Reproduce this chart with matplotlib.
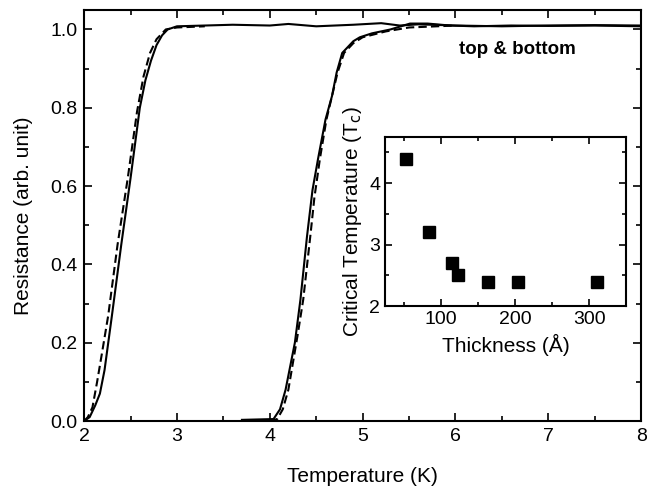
import matplotlib
matplotlib.use('Agg')
import matplotlib.pyplot as plt
from matplotlib.ticker import MultipleLocator

plt.rcParams['font.family'] = ['Liberation Sans', 'DejaVu Sans']

# Resistance curves
t_solid_a = [2.00, 2.06, 2.12, 2.17, 2.22, 2.30, 2.40, 2.50, 2.60, 2.66, 2.72, 2.78, 2.84, 2.90,
             3.00, 3.30, 3.60, 4.00, 4.20, 4.50, 4.90, 5.20, 5.40, 5.60, 6.00, 6.50, 7.00, 7.50, 8.00]
r_solid_a = [0.00, 0.01, 0.04, 0.07, 0.13, 0.27, 0.45, 0.62, 0.80, 0.87, 0.92, 0.96, 0.985, 1.00,
             1.008, 1.010, 1.012, 1.010, 1.014, 1.008, 1.012, 1.016, 1.010, 1.013, 1.010, 1.008, 1.010, 1.011, 1.010]

t_dash_a = [2.00, 2.04, 2.09, 2.14, 2.19, 2.26, 2.36, 2.47, 2.57, 2.64, 2.71, 2.78, 2.88, 3.00, 3.30]
r_dash_a = [0.00, 0.01, 0.035, 0.10, 0.17, 0.27, 0.45, 0.62, 0.79, 0.88, 0.94, 0.975, 1.00, 1.005, 1.008]

t_solid_b = [3.70, 4.04, 4.11, 4.17, 4.22, 4.27, 4.33, 4.40, 4.46, 4.52, 4.60, 4.67, 4.72, 4.78,
             4.90, 4.97, 5.10, 5.30, 5.51, 5.70, 5.94, 6.20, 6.60, 7.00, 7.50, 8.00]
r_solid_b = [0.003, 0.005, 0.03, 0.08, 0.14, 0.20, 0.31, 0.47, 0.59, 0.67, 0.77, 0.83, 0.89, 0.94,
             0.97, 0.98, 0.99, 1.00, 1.015, 1.015, 1.010, 1.008, 1.010, 1.009, 1.010, 1.008]

t_dash_b = [4.00, 4.08, 4.14, 4.20, 4.25, 4.30, 4.36, 4.44, 4.48, 4.54, 4.61, 4.68, 4.73, 4.80,
            4.90, 5.00, 5.25, 5.50, 6.00]
r_dash_b = [0.00, 0.005, 0.03, 0.08, 0.15, 0.22, 0.31, 0.48, 0.57, 0.67, 0.77, 0.84, 0.89, 0.94,
            0.965, 0.98, 0.995, 1.005, 1.010]

# Inset: critical temperature vs thickness
thickness = [54, 84, 115, 124, 164, 204, 310]
tc = [4.4, 3.2, 2.7, 2.5, 2.4, 2.4, 2.4]

fig = plt.figure(figsize=(6.47, 4.93), dpi=100)
ax = fig.add_axes([0.130, 0.146, 0.861, 0.834])

ax.plot(t_solid_a, r_solid_a, color='black', lw=1.5)
ax.plot(t_dash_a, r_dash_a, color='black', lw=1.5, ls=(0, (4, 2)))
ax.plot(t_solid_b, r_solid_b, color='black', lw=1.5)
ax.plot(t_dash_b, r_dash_b, color='black', lw=1.5, ls=(0, (4, 2)))

ax.text(6.67, 0.95, 'top & bottom', ha='center', va='center', fontsize=13.5, fontweight='bold')

ax.set_xlim(2, 8)
ax.set_ylim(0, 1.05)
ax.xaxis.set_major_locator(MultipleLocator(1))
ax.xaxis.set_minor_locator(MultipleLocator(0.5))
ax.yaxis.set_major_locator(MultipleLocator(0.2))
ax.yaxis.set_minor_locator(MultipleLocator(0.1))
ax.set_yticklabels([f'{v:.1f}' for v in ax.get_yticks()])
ax.tick_params(which='both', direction='in', top=True, right=True, labelsize=14, width=1.2)
ax.tick_params(which='major', length=6, pad=5)
ax.tick_params(which='minor', length=3.5)
for s in ax.spines.values():
    s.set_linewidth(1.5)
ax.set_xlabel('Temperature (K)', fontsize=15, labelpad=16)
ax.set_ylabel('Resistance (arb. unit)', fontsize=15, labelpad=12)

# inset
axi = fig.add_axes([0.595, 0.379, 0.373, 0.343])
axi.plot(thickness, tc, ls='none', marker='s', ms=8.5, color='black')
axi.set_xlim(25, 350)
axi.set_ylim(2, 4.75)
axi.xaxis.set_major_locator(MultipleLocator(100))
axi.xaxis.set_minor_locator(MultipleLocator(50))
axi.yaxis.set_major_locator(MultipleLocator(1))
axi.yaxis.set_minor_locator(MultipleLocator(0.5))
axi.tick_params(which='both', direction='in', top=True, right=True, labelsize=14, width=1.2)
axi.tick_params(which='major', length=5)
axi.tick_params(which='minor', length=3)
for s in axi.spines.values():
    s.set_linewidth(1.5)
axi.set_xlabel('Thickness (Å)', fontsize=15)
axi.set_ylabel(r'Critical Temperature (T$_\mathrm{c}$)', fontsize=15)

fig.savefig('out.png', dpi=100)
